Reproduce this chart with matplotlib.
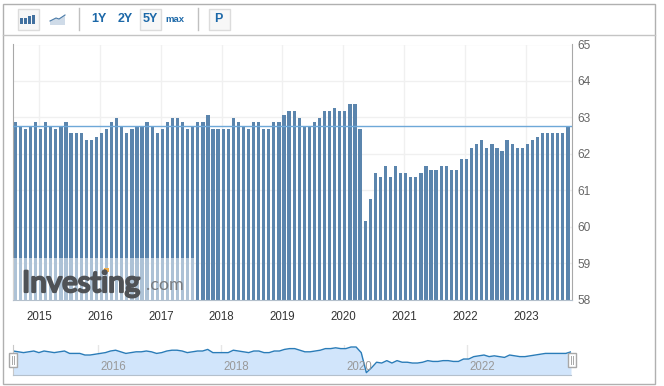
import matplotlib
matplotlib.use("Agg")
import matplotlib.pyplot as plt
import matplotlib.patheffects as pe
from matplotlib.patches import Rectangle, Polygon
from matplotlib.transforms import ScaledTranslation

# monthly values, Aug 2014 .. Sep 2023
values = [
    62.9, 62.8, 62.7, 62.8, 62.9, 62.7, 62.9, 62.8, 62.7, 62.8, 62.9, 62.6,
    62.6, 62.6, 62.4, 62.4, 62.5, 62.6, 62.7, 62.9, 63.0, 62.8, 62.6, 62.7,
    62.8, 62.8, 62.9, 62.8, 62.6, 62.7, 62.9, 63.0, 63.0, 62.9, 62.7, 62.8,
    62.9, 62.9, 63.1, 62.7, 62.7, 62.7, 62.7, 63.0, 62.9, 62.8, 62.7, 62.9,
    62.9, 62.7, 62.7, 62.9, 62.9, 63.1, 63.2, 63.2, 63.0, 62.8, 62.8, 62.9,
    63.0, 63.2, 63.2, 63.3, 63.2, 63.2, 63.4, 63.4, 62.7, 60.2, 60.8, 61.5,
    61.4, 61.7, 61.4, 61.7, 61.5, 61.5, 61.4, 61.4, 61.5, 61.7, 61.6, 61.6,
    61.7, 61.7, 61.6, 61.6, 61.9, 61.9, 62.2, 62.3, 62.4, 62.2, 62.3, 62.2,
    62.1, 62.4, 62.3, 62.2, 62.2, 62.3, 62.4, 62.5, 62.6, 62.6, 62.6, 62.6,
    62.6, 62.8,
]
last_value = 62.8
y_ticks = [58, 59, 60, 61, 62, 63, 64, 65]
year_labels = ["2015", "2016", "2017", "2018", "2019", "2020", "2021", "2022", "2023"]
year_pos = [4.7, 16.7, 28.7, 40.7, 52.7, 64.7, 76.7, 88.7, 100.7]
nav_labels = ["2016", "2018", "2020", "2022"]
nav_pos = [16.6, 40.6, 64.6, 88.6]
range_buttons = ["1Y", "2Y", "5Y"]

W, H = 664, 386
BAR = "#5b85ad"
GRID = "#f0f0f0"
FRAME = "#b0b0b0"
BLUE = "#1c68a8"
LOGO = "#4f5256"
plt.rcParams["font.family"] = ["Liberation Sans", "DejaVu Sans"]


def px_axes(fig, x0, y0, x1, y1, **kw):
    # pixel box, y measured from the top of the picture
    return fig.add_axes([x0 / W, 1 - y1 / H, (x1 - x0) / W, (y1 - y0) / H], **kw)


fig = plt.figure(figsize=(W / 100, H / 100), dpi=100)

# main chart, the bars sit about 1px under the grid in the original
ax = px_axes(fig, 12.5, 44.5, 572, 300)
down = ax.transData + ScaledTranslation(0, -1 / 100, fig.dpi_scale_trans)
xs = list(range(len(values)))
ax.bar(xs, values, width=0.64, color=BAR, zorder=2, transform=down)
ax.plot([-0.55, 109.8], [last_value, last_value], color="#6ea8d8", lw=1, zorder=3, transform=down)
ax.set_xlim(-0.55, 109.8)
ax.set_ylim(58, 65)
ax.set_yticks(y_ticks)
ax.set_xticks(year_pos)
ax.set_xticklabels(year_labels)
ax.grid(True, color=GRID, lw=1, zorder=0)
ax.set_axisbelow(True)
ax.yaxis.tick_right()
ax.tick_params(axis="x", length=0, pad=8, labelsize=8.3, labelcolor="#333333")
ax.tick_params(axis="y", length=0, pad=4, labelsize=8.6, labelcolor="#666666")
ax.spines["top"].set_visible(False)
ax.spines["left"].set_color("#a8a8a8")
ax.spines["right"].set_color("#a8a8a8")
ax.spines["bottom"].set_color("#b4c0cc")

# navigator
nav = px_axes(fig, 13.3, 345, 571, 375.3)
nav.fill_between(xs, values, 59.87, color="#d1e5fb", lw=0)
nav.plot(xs, values, color="#2a7cb8", lw=1)
nav.set_xlim(0, len(values) - 1)
nav.set_ylim(59.87, 63.65)
nav.set_xticks(nav_pos)
nav.set_xticklabels([])
nav.set_yticks([])
nav.grid(True, axis="x", color="#e6e6e6", lw=1)
nav.set_axisbelow(True)
nav.tick_params(length=0)
for s in ["top", "right"]:
    nav.spines[s].set_visible(False)
nav.spines["left"].set_color("#c8c8c8")
nav.spines["bottom"].set_color("#b4c0cc")
for lab, p in zip(nav_labels, nav_pos):
    nav.text(p + 3, 60.85, lab, ha="center", va="center", fontsize=8.3, color="#999999")

# toolbar, frame, watermark drawn in pixel coords on top
top = fig.add_axes([0, 0, 1, 1], zorder=5)
top.set_xlim(0, W)
top.set_ylim(H, 0)
top.axis("off")
top.patch.set_alpha(0)

top.add_patch(Rectangle((2.5, 3.5), 652, 380.5, fill=False, ec=FRAME, lw=1))
top.plot([2.5, 654.5], [34.5, 34.5], color="#c4c4c4", lw=1)
for x in [78.5, 197.5]:
    top.plot([x, x], [8, 30], color="#c0c0c0", lw=1)
for x in [17.5, 139.5, 208.5]:
    top.add_patch(Rectangle((x, 8.5), 21, 21, fc="#f7f7f7", ec="#dcdcdc", lw=1))

# bar icon
for x, y in [(20, 18), (24, 18), (28, 16), (32, 15)]:
    top.add_patch(Rectangle((x, y), 3, 24 - y, color="#41709f", lw=0))
# line icon
top.add_patch(Polygon([(50, 21), (56, 18), (59, 19), (65, 15), (65, 25), (50, 25)],
                      fc="#cfdbe8", lw=0))
top.plot([50, 56, 59, 65], [21, 18, 19, 15], color="#4a7ba8", lw=0.8)

for lab, x in zip(range_buttons, [99, 125, 150]):
    top.text(x, 19, lab, ha="center", va="center", fontsize=9, fontweight="bold", color=BLUE)
top.text(175, 19, "max", ha="center", va="center", fontsize=6.8, fontweight="bold", color=BLUE)
top.text(218.5, 19, "P", ha="center", va="center", fontsize=9, fontweight="bold", color=BLUE)

# navigator handles
for x in [8.5, 567.5]:
    top.add_patch(Rectangle((x, 352.5), 8, 14.5, fc="white", ec="#a8a8a8", lw=1))
    for dx in [3, 5]:
        top.plot([x + dx, x + dx], [356, 364], color="#a8a8a8", lw=0.7)

# Investing watermark
top.add_patch(Rectangle((13, 258), 181, 42, fc="white", alpha=0.5, lw=0))
top.text(22, 292, "Investing", ha="left", va="baseline", fontsize=21.3,
         family=["Lato", "Liberation Sans"], color=LOGO,
         path_effects=[pe.withStroke(linewidth=1.6, foreground=LOGO)])
top.text(146, 289.5, ".com", ha="left", va="baseline", fontsize=13,
         family=["Lato", "Liberation Sans"], color="#7a7d81")
top.add_patch(Rectangle((104, 268), 5, 4, color="#f5b04a", lw=0))

fig.savefig("out.png", dpi=100)
plt.close(fig)
